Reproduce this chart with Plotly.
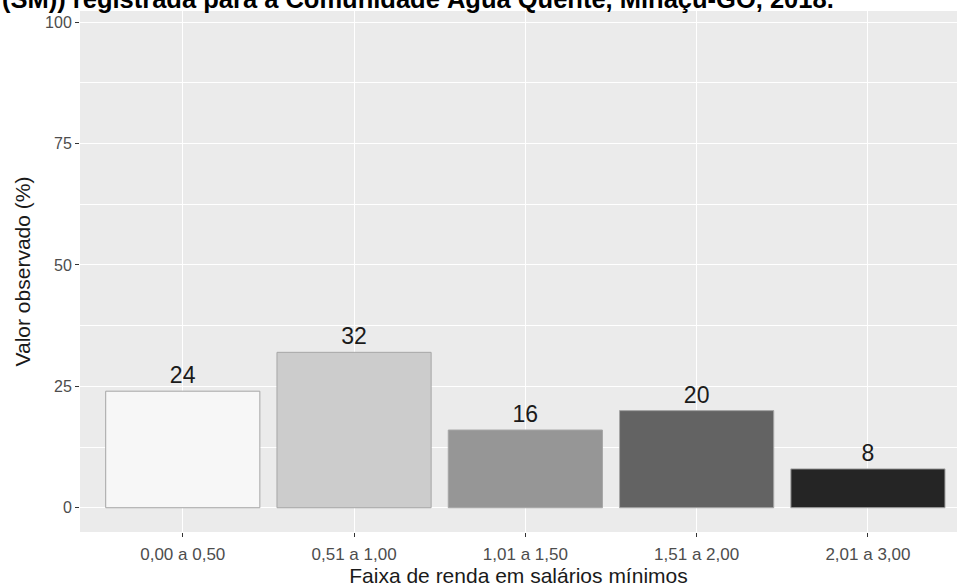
import plotly.graph_objects as go

faixas = ["0,00 a 0,50", "0,51 a 1,00", "1,01 a 1,50", "1,51 a 2,00", "2,01 a 3,00"]
valores = [24, 32, 16, 20, 8]
cores = ["#f7f7f7", "#cccccc", "#969696", "#636363", "#252525"]

titulo = "(SM)) registrada para a Comunidade Água Quente, Minaçu-GO, 2018."

W, H = 957, 587
ml, mr, mt, mb = 80, 0, 11, 55

fig = go.Figure(
    go.Bar(
        x=faixas,
        y=valores,
        width=0.9,
        marker=dict(color=cores, line=dict(color="#a6a6a6", width=1)),
        text=[str(v) for v in valores],
        textposition="outside",
        textfont=dict(family="Liberation Sans, Arial", size=23, color="#1a1a1a"),
        cliponaxis=False,
    )
)

fig.update_layout(
    width=W,
    height=H,
    margin=dict(l=ml, r=mr, t=mt, b=mb),
    paper_bgcolor="white",
    plot_bgcolor="#ebebeb",
    showlegend=False,
    font=dict(family="Liberation Sans, Arial"),
)

fig.update_xaxes(
    range=[-0.6, 4.52],
    automargin=False,
    showgrid=True,
    gridcolor="white",
    gridwidth=1.1,
    ticks="outside",
    ticklen=4,
    tickcolor="#333333",
    ticklabelstandoff=3,
    tickfont=dict(size=17, color="#4d4d4d"),
    title=dict(text="Faixa de renda em salários mínimos", font=dict(size=21, color="#1a1a1a"), standoff=8),
    zeroline=False,
)

fig.update_yaxes(
    range=[-5, 102.3],
    automargin=False,
    tickvals=[0, 25, 50, 75, 100],
    showgrid=True,
    gridcolor="white",
    gridwidth=1.1,
    minor=dict(tickvals=[12.5, 37.5, 62.5, 87.5], showgrid=True, gridcolor="white", gridwidth=0.5, ticks=""),
    ticks="outside",
    ticklen=4,
    tickcolor="#333333",
    tickfont=dict(size=16, color="#4d4d4d"),
    title=dict(text="Valor observado (%)", font=dict(size=21, color="#1a1a1a"), standoff=8),
    zeroline=False,
)

pw = W - ml - mr
ph = H - mt - mb
fig.add_annotation(
    text=titulo,
    xref="paper",
    yref="paper",
    x=-ml / pw,
    y=1 - 4 / ph,
    xanchor="left",
    yanchor="bottom",
    showarrow=False,
    font=dict(family="Liberation Sans, Arial", size=25.5, color="black", weight="bold"),
)

# a página vem com margem de 8px no body; tira para o gráfico ocupar a janela toda
fig.write_html(
    "out.html",
    config={"displayModeBar": False},
    post_script="document.body.style.margin='0';",
)
